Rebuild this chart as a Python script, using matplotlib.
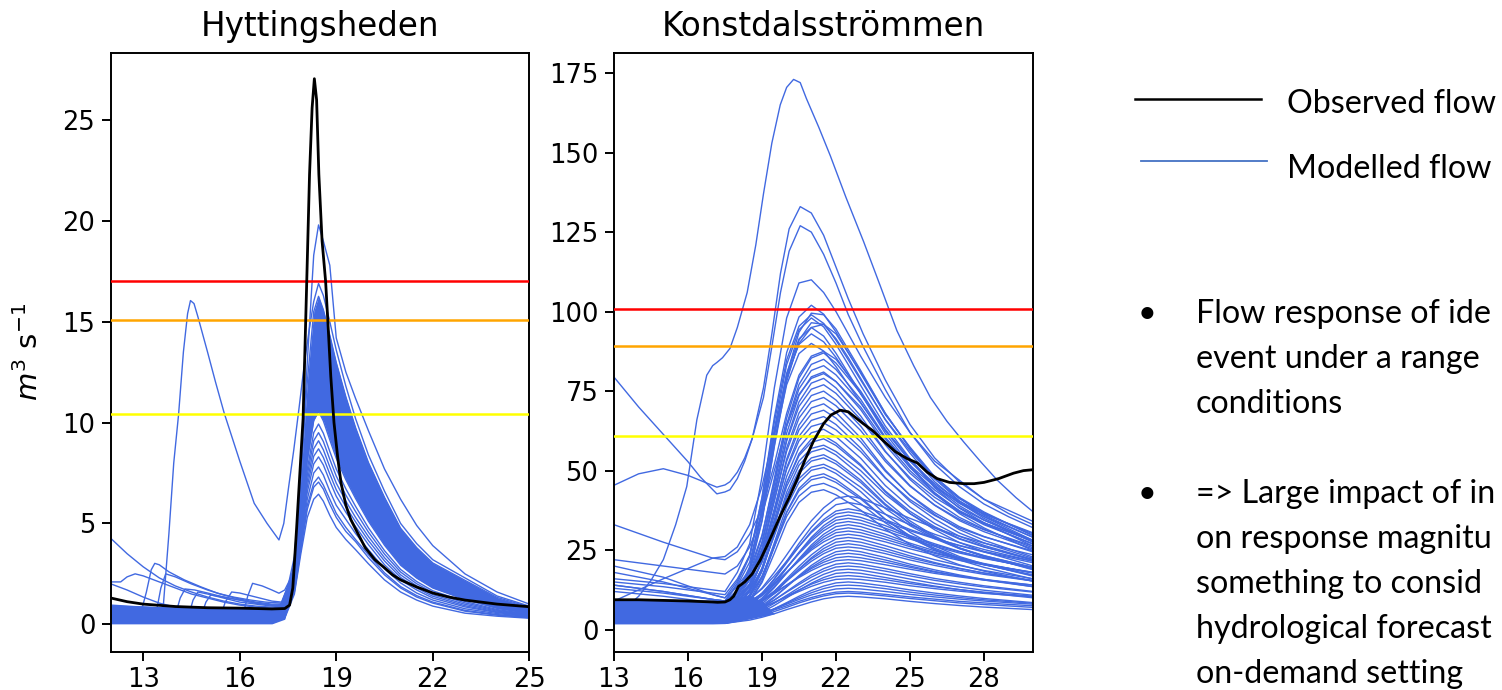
import matplotlib
matplotlib.use("Agg")
import matplotlib.pyplot as plt
from matplotlib.lines import Line2D

W, H = 1502, 690
BLUE = '#4169E1'

# ---------------- Hyttingsheden ----------------
hy_grid = [12, 13, 14, 15, 16, 17, 17.4, 17.7, 17.9, 18.1, 18.3, 18.45, 18.6, 18.8,
           19.0, 19.3, 19.6, 20.0, 20.5, 21, 21.5, 22, 23, 24, 25]

hy_members = [
    [0.1, 0.08, 0.06, 0.06, 0.05, 0.05, 0.3, 1.5, 3.5, 5.3, 6.2, 6.45, 6.1, 5.4, 4.8, 4.2, 3.7, 3.0, 2.2, 1.6, 1.2, 0.9, 0.55, 0.4, 0.3],
    [0.35, 0.3, 0.28, 0.25, 0.25, 0.22, 0.35, 1.6, 3.7, 5.7, 6.8, 7.05, 6.7, 5.95, 5.3, 4.6, 4.1, 3.3, 2.45, 1.8, 1.35, 1.05, 0.65, 0.45, 0.33],
    [0.6, 0.5, 0.45, 0.42, 0.4, 0.38, 0.45, 1.66, 3.8, 5.9, 7.0, 7.3, 6.9, 6.2, 5.5, 4.8, 4.2, 3.45, 2.55, 1.87, 1.42, 1.1, 0.69, 0.48, 0.35],
    [0.2, 0.18, 0.15, 0.15, 0.14, 0.14, 0.42, 1.75, 4.0, 6.2, 7.5, 7.8, 7.4, 6.6, 5.9, 5.2, 4.5, 3.7, 2.75, 2.05, 1.55, 1.2, 0.77, 0.53, 0.38],
    [0.8, 0.7, 0.62, 0.58, 0.55, 0.5, 0.6, 1.85, 4.2, 6.55, 7.95, 8.3, 7.9, 7.1, 6.35, 5.55, 4.85, 3.95, 2.95, 2.2, 1.7, 1.3, 0.86, 0.58, 0.4],
    [0.45, 0.4, 0.36, 0.34, 0.32, 0.3, 0.49, 1.93, 4.35, 6.83, 8.33, 8.7, 8.27, 7.45, 6.67, 5.82, 5.08, 4.15, 3.14, 2.32, 1.8, 1.39, 0.92, 0.61, 0.43],
    [0.95, 0.85, 0.75, 0.7, 0.66, 0.62, 0.7, 2.0, 4.5, 7.1, 8.7, 9.1, 8.65, 7.8, 7.0, 6.1, 5.3, 4.35, 3.3, 2.45, 1.9, 1.47, 0.99, 0.65, 0.45],
    [0.3, 0.26, 0.24, 0.22, 0.2, 0.2, 0.56, 2.08, 4.66, 7.39, 9.1, 9.5, 9.06, 8.18, 7.35, 6.4, 5.59, 4.57, 3.48, 2.59, 2.01, 1.57, 1.06, 0.69, 0.47],
    [0.7, 0.62, 0.56, 0.52, 0.5, 0.46, 0.6, 2.16, 4.82, 7.68, 9.5, 9.93, 9.47, 8.57, 7.7, 6.71, 5.85, 4.78, 3.65, 2.72, 2.12, 1.66, 1.13, 0.73, 0.5],
    [0.5, 0.45, 0.42, 0.4, 0.38, 0.36, 0.65, 2.28, 5.06, 8.1, 10.1, 10.56, 10.08, 9.14, 8.23, 7.16, 6.24, 5.11, 3.92, 2.93, 2.29, 1.8, 1.23, 0.79, 0.53],
    [0.9, 0.85, 0.8, 0.78, 0.75, 0.72, 1.14, 3.36, 7.22, 12.0, 15.5, 16.26, 15.59, 14.33, 12.98, 11.27, 9.75, 8.02, 6.29, 4.76, 3.8, 3.04, 2.18, 1.33, 0.86],
    [0.75, 0.7, 0.66, 0.62, 0.6, 0.58, 1.0, 3.0, 7.0, 13.0, 18.3, 19.8, 19.0, 17.8, 14.2, 12.5, 11.2, 9.6, 7.7, 6.2, 4.9, 3.9, 2.5, 1.6, 1.0],
]

# dense core of the ensemble (overlapping lines)
hy_band_lo = [0.02, 0.02, 0.02, 0.02, 0.02, 0.02, 0.25, 2.28, 5.06, 8.1, 10.1, 10.56, 10.08, 9.14,
              8.23, 7.16, 6.24, 5.11, 3.92, 2.93, 2.29, 1.8, 1.23, 0.79, 0.53]
hy_band_hi = [0.95, 0.9, 0.85, 0.85, 0.82, 0.8, 1.14, 3.36, 7.22, 12.0, 15.5, 16.26, 15.59, 14.33,
              12.98, 11.27, 9.75, 8.02, 6.29, 4.76, 3.8, 3.04, 2.18, 1.33, 0.86]

# members that leave the band before the event
hy_extra = [
    ([12, 13, 13.5, 13.63, 13.8, 13.95, 14.1, 14.25, 14.38, 14.47, 14.58, 14.7, 15.0, 15.25, 15.52, 16.0,
      16.45, 16.85, 17.22, 17.37, 17.52, 17.68, 17.85, 18.0, 18.15, 18.3, 18.45, 18.6, 18.8, 19.0, 19.3,
      19.6, 20.0, 20.5, 21, 21.5, 22, 23, 24, 25],
     [0.45, 0.4, 0.45, 1.0, 4.5, 8.0, 10.4, 13.5, 15.4, 16.05, 15.9, 15.25, 13.5, 12.0, 10.46, 8.1,
      6.0, 5.0, 4.18, 5.0, 6.8, 8.64, 10.8, 12.8, 14.5, 16.0, 16.9, 16.3, 15.0, 13.6, 11.8,
      10.2, 8.4, 6.6, 5.0, 4.0, 3.2, 2.3, 1.4, 0.9]),
    ([12, 12.5, 13, 13.5, 14, 14.5, 15, 15.5, 16, 16.5, 17, 17.3, 17.65],
     [4.25, 3.5, 2.85, 2.3, 1.9, 1.6, 1.35, 1.15, 1.0, 0.9, 0.85, 0.9, 2.5]),
    ([12, 12.3, 12.5, 12.75, 13.0, 13.5, 14, 14.5, 15, 15.5, 16, 16.5, 17, 17.3, 17.65],
     [2.1, 2.1, 2.35, 2.5, 2.4, 2.1, 1.8, 1.5, 1.3, 1.1, 0.95, 0.85, 0.8, 0.85, 2.5]),
    ([12, 12.5, 13, 13.5, 14, 14.5, 15, 15.5, 16, 16.5, 17, 17.3, 17.65],
     [2.0, 1.7, 1.35, 1.05, 0.85, 0.7, 0.6, 0.55, 0.5, 0.5, 0.5, 0.55, 2.5]),
    ([12, 12.5, 12.95, 13.1, 13.25, 13.36, 13.5, 13.8, 14.28, 14.8, 15.31, 15.8, 16.34, 16.8, 17.3, 17.65],
     [0.6, 0.6, 0.7, 1.6, 2.7, 3.02, 2.95, 2.6, 2.2, 1.85, 1.54, 1.35, 1.2, 1.1, 1.05, 2.5]),
    ([12, 13.4, 13.55, 13.7, 14.0, 14.5, 15, 15.5, 16, 16.5, 17, 17.3, 17.65],
     [0.5, 0.55, 1.8, 2.5, 2.35, 2.0, 1.7, 1.45, 1.25, 1.1, 1.0, 1.0, 2.5]),
    ([12, 14.0, 14.15, 14.3, 14.6, 15.0, 15.5, 16, 16.5, 17, 17.3, 17.65],
     [0.4, 0.45, 1.3, 1.75, 1.7, 1.55, 1.35, 1.2, 1.05, 0.95, 0.95, 2.5]),
    ([12, 14.4, 14.55, 14.7, 15.0, 15.5, 16, 16.5, 17, 17.3, 17.65],
     [0.3, 0.35, 1.2, 1.6, 1.5, 1.3, 1.1, 1.0, 0.9, 0.9, 2.5]),
    ([12, 14.8, 14.95, 15.1, 15.5, 16, 16.5, 17, 17.3, 17.65],
     [0.35, 0.4, 1.1, 1.45, 1.35, 1.2, 1.05, 0.95, 0.95, 2.5]),
    ([12, 15.4, 15.55, 15.75, 16.0, 16.5, 17, 17.3, 17.65],
     [0.3, 0.35, 1.1, 1.6, 1.55, 1.35, 1.15, 1.1, 2.5]),
    ([12, 16.1, 16.25, 16.4, 16.7, 17.0, 17.22, 17.4, 17.65],
     [0.4, 0.45, 1.4, 2.03, 1.9, 1.7, 1.54, 1.7, 2.5]),
]

hy_obs_x = [12, 12.5, 13, 14, 15, 16, 17, 17.4, 17.55, 17.65, 17.77, 17.87, 17.97, 18.08, 18.17, 18.25,
            18.32, 18.39, 18.46, 18.56, 18.67, 18.74, 18.83, 18.93, 19.05, 19.15, 19.3, 19.45, 19.64,
            19.9, 20.2, 20.5, 20.75, 21, 21.5, 22, 22.5, 23, 24, 25]
hy_obs_y = [1.3, 1.12, 1.0, 0.88, 0.82, 0.8, 0.76, 0.78, 0.95, 1.8, 4.8, 7.5, 10.2, 16.8, 22.3, 25.6,
            27.05, 26.0, 22.3, 19.0, 17.0, 15.0, 12.3, 10.0, 8.2, 7.0, 5.9, 5.2, 4.6,
            3.8, 3.2, 2.8, 2.45, 2.2, 1.85, 1.55, 1.35, 1.2, 1.0, 0.87]

hy_thresholds = [17.0, 15.07, 10.45]

# ---------------- Konstdalsströmmen ----------------
kd_grid = [13, 15, 17, 17.5, 18, 18.5, 19, 19.5, 20, 20.5, 21, 21.5, 22, 22.5, 23, 24, 25, 26, 27, 28, 30]

kd_members = [
    [16, 14.5, 12.5, 12, 18, 27, 48, 76, 98, 109, 110, 106, 100, 93, 86, 73, 62, 53, 47, 41, 34],
    [14, 12, 9.5, 9, 14.6, 23.0, 41.6, 66.7, 87.1, 98.3, 102, 99.2, 93.6, 87.1, 80.6, 67.6, 57.4, 48.1, 41.6, 37.0, 29.5],
    [7.5, 7.3, 7, 7, 11.5, 18.5, 34.0, 58.0, 80.0, 93.5, 99.5, 99.0, 94.5, 88.0, 81.5, 68.0, 57.0, 47.5, 40.5, 35.5, 28.0],
    [20, 16.5, 11, 10, 15.3, 23.4, 41.2, 65.2, 84.8, 95.4, 99, 96.3, 91.0, 84.8, 78.5, 66.1, 56.3, 47.4, 41.2, 36.7, 29.6],
    [6.5, 6.2, 6, 6, 11.5, 19.8, 38.2, 63.0, 83.3, 94.3, 98, 95.2, 89.7, 83.3, 76.8, 64.0, 53.8, 44.6, 38.2, 33.6, 26.2],
    [9, 8.5, 8, 8, 12.0, 19.0, 34.5, 57.5, 78.0, 91.0, 96.5, 96.0, 91.5, 85.5, 79.0, 66.0, 55.5, 46.5, 40.0, 35.0, 27.5],
    [5.5, 5.2, 5, 5, 10.4, 18.5, 36.5, 60.8, 80.6, 91.4, 95, 92.3, 86.9, 80.6, 74.3, 61.7, 51.8, 42.8, 36.5, 32.0, 24.8],
    [15, 13.5, 11.5, 11, 15.9, 23.3, 39.7, 61.8, 79.9, 89.7, 93, 90.5, 85.6, 79.9, 74.1, 62.7, 53.6, 45.4, 39.7, 35.6, 29.0],
    [9.5, 9.2, 9, 9, 13.9, 21.2, 37.4, 59.2, 77.0, 86.8, 90, 87.6, 82.7, 77.0, 71.4, 60.0, 51.1, 43.0, 37.4, 33.3, 26.8],
    [9, 16, 22.5, 23.0, 26, 33, 45, 62, 79, 90, 95, 96, 93, 87, 81, 68, 57, 48, 41.5, 36, 29],
    [33, 27.5, 22.5, 22.0, 24.5, 30, 38, 52, 68, 80, 86, 87.5, 85, 80, 75, 63, 53, 45, 39, 34.5, 27.5],
    [22, 20, 18, 17.5, 20, 26, 36, 50, 64, 74, 79, 80.5, 78, 74, 70, 59, 50, 43, 37, 33, 27],
    [8.5, 8.2, 8, 8, 12.0, 17.5, 29.3, 47.5, 66.5, 79.1, 85.4, 87, 83.8, 79.1, 74.4, 62.5, 53.0, 45.9, 40.4, 36.4, 30.1],
    [6.8, 6.4, 6, 6, 10.0, 15.5, 27.3, 45.5, 64.5, 77.1, 83.4, 85, 81.8, 77.1, 72.4, 60.5, 51.0, 43.9, 38.4, 34.4, 28.1],
    [18, 15, 11, 10, 13.7, 18.8, 29.7, 46.5, 64.0, 75.7, 81.5, 83, 80.1, 75.7, 71.3, 60.4, 51.6, 45.0, 39.9, 36.3, 30.4],
    [7.5, 7.2, 7, 7, 10.7, 15.9, 27.0, 44.0, 61.8, 73.6, 79.5, 81, 78.0, 73.6, 69.2, 58.1, 49.2, 42.5, 37.3, 33.6, 27.7],
    [5.6, 5.3, 5, 5, 8.7, 13.9, 25.0, 42.0, 59.8, 71.6, 77.5, 79, 76.0, 71.6, 67.2, 56.1, 47.2, 40.5, 35.3, 31.6, 25.7],
    [13, 11.5, 9.5, 9, 12.4, 17.2, 27.4, 43.0, 59.3, 70.2, 75.6, 77, 74.3, 70.2, 66.1, 55.9, 47.8, 41.6, 36.9, 33.5, 28.0],
    [6.5, 6.3, 6, 6, 9.5, 14.3, 24.6, 40.5, 57.1, 68.1, 73.6, 75, 72.2, 68.1, 64.0, 53.6, 45.3, 39.1, 34.3, 30.8, 25.3],
    [8.8, 8.4, 8, 8, 11.3, 15.8, 25.6, 40.5, 56.1, 66.5, 71.7, 73, 70.4, 66.5, 62.6, 52.9, 45.1, 39.2, 34.7, 31.4, 26.2],
    [4.6, 4.3, 4, 4, 7.4, 12.0, 22.1, 37.5, 53.6, 64.3, 69.7, 71, 68.3, 64.3, 60.3, 50.2, 42.2, 36.2, 31.5, 28.1, 22.8],
    [7.6, 7.3, 7, 7, 10.1, 14.4, 23.7, 38.0, 52.9, 62.8, 67.8, 69, 66.5, 62.8, 59.1, 49.8, 42.3, 36.8, 32.4, 29.3, 24.4],
    [5.5, 5.2, 5, 5, 8.1, 12.4, 21.7, 36.0, 50.9, 60.8, 65.8, 67, 64.5, 60.8, 57.1, 47.8, 40.3, 34.8, 30.4, 27.3, 22.4],
    [14, 12, 9.5, 9, 11.8, 15.7, 24.1, 37.0, 50.4, 59.4, 63.9, 65, 62.8, 59.4, 56.0, 47.6, 40.9, 35.9, 32.0, 29.2, 24.7],
    [6.6, 6.3, 6, 6, 8.9, 12.8, 21.4, 34.5, 48.2, 57.3, 61.9, 63, 60.7, 57.3, 53.9, 45.3, 38.5, 33.4, 29.4, 26.5, 22.0],
    [7.4, 7.2, 7, 7, 9.7, 13.4, 21.3, 33.5, 46.2, 54.7, 58.9, 60, 57.9, 54.7, 51.5, 43.6, 37.2, 32.4, 28.7, 26.1, 21.8],
    [4.5, 4.2, 4, 4, 6.9, 10.8, 19.4, 32.5, 46.2, 55.3, 59.9, 61, 58.7, 55.3, 51.9, 43.3, 36.5, 31.4, 27.4, 24.5, 20.0],
    [12, 10.5, 8.5, 8, 10.5, 14.0, 21.5, 33.0, 45.0, 53.0, 57.0, 58, 56.0, 53.0, 50.0, 42.5, 36.5, 32.0, 28.5, 26.0, 22.0],
    [4.4, 4.2, 4, 4, 6.7, 10.4, 18.3, 30.5, 43.2, 51.7, 55.9, 57, 54.9, 51.7, 48.5, 40.6, 34.2, 29.4, 25.7, 23.1, 18.8],
    [5.5, 5.2, 5, 5, 7.5, 11.0, 18.5, 30.0, 42.0, 50.0, 54.0, 55, 53.0, 50.0, 47.0, 39.5, 33.5, 29.0, 25.5, 23.0, 19.0],
    [6.4, 6.2, 6, 6, 8.4, 11.8, 19.0, 30.0, 41.5, 49.2, 53.0, 54, 52.1, 49.2, 46.3, 39.1, 33.4, 29.0, 25.7, 23.3, 19.4],
    [7.5, 7.2, 7, 7, 9.3, 12.4, 19.2, 29.5, 40.3, 47.5, 51.1, 52, 50.2, 47.5, 44.8, 38.1, 32.7, 28.6, 25.5, 23.2, 19.6],
    [3.9, 3.7, 3.5, 3.5, 5.9, 9.2, 16.3, 27.3, 38.7, 46.3, 50.1, 51, 49.1, 46.3, 43.4, 36.3, 30.6, 26.3, 23.0, 20.6, 16.8],
    [3.5, 3.2, 3, 3, 5.3, 8.5, 15.4, 26.0, 37.0, 44.4, 48.1, 49, 47.2, 44.4, 41.6, 34.7, 29.2, 25.1, 21.9, 19.6, 15.9],
    [5.4, 5.2, 5, 5, 7.2, 10.2, 16.6, 26.5, 36.8, 43.7, 47.1, 48, 46.3, 43.7, 41.1, 34.7, 29.5, 25.6, 22.6, 20.5, 17.0],
    [6.6, 6.3, 6, 6, 8.0, 10.8, 16.8, 26.0, 35.6, 42.0, 45.2, 46, 44.4, 42.0, 39.6, 33.6, 28.8, 25.2, 22.4, 20.4, 17.2],
    [4.4, 4.2, 4, 4, 6.0, 8.8, 14.8, 24.0, 33.6, 40.0, 43.2, 44, 42.4, 40.0, 37.6, 31.6, 26.8, 23.2, 20.4, 18.4, 15.2],
    [5.4, 5.2, 5, 5, 7.2, 9.4, 13.1, 18.0, 23.5, 29.1, 34.2, 38.3, 41.3, 42, 41.3, 38.3, 35.0, 32.0, 29.4, 27.2, 23.5],
    [3.4, 3.2, 3, 3, 5.2, 7.4, 11.1, 16.0, 21.5, 27.1, 32.2, 36.3, 39.3, 40, 39.3, 36.3, 33.0, 30.0, 27.4, 25.2, 21.5],
    [4.4, 4.2, 4, 4, 6.0, 8.1, 11.5, 15.9, 21.0, 26.1, 30.9, 34.6, 37.3, 38, 37.3, 34.6, 31.5, 28.8, 26.4, 24.4, 21.0],
    [6.5, 6.2, 6, 6, 7.9, 9.7, 12.8, 16.9, 21.5, 26.2, 30.5, 33.9, 36.4, 37, 36.4, 33.9, 31.1, 28.6, 26.5, 24.6, 21.5],
    [2.9, 2.7, 2.5, 2.5, 4.5, 6.5, 9.9, 14.2, 19.3, 24.3, 29.0, 32.7, 35.3, 36, 35.3, 32.7, 29.6, 27.0, 24.6, 22.6, 19.3],
    [4.5, 4.2, 4, 4, 5.9, 7.7, 10.8, 14.9, 19.5, 24.2, 28.5, 31.9, 34.4, 35, 34.4, 31.9, 29.1, 26.6, 24.5, 22.6, 19.5],
    [5.4, 5.2, 5, 5, 6.7, 8.5, 11.4, 15.2, 19.5, 23.9, 27.9, 31.1, 33.4, 34, 33.4, 31.1, 28.5, 26.2, 24.1, 22.4, 19.5],
    [2.8, 2.6, 2.5, 2.5, 4.3, 6.2, 9.2, 13.2, 17.8, 22.3, 26.6, 30.0, 32.4, 33, 32.4, 30.0, 27.2, 24.8, 22.6, 20.8, 17.8],
    [3.9, 3.7, 3.5, 3.5, 5.2, 6.9, 9.8, 13.5, 17.8, 22.0, 26.0, 29.2, 31.4, 32, 31.4, 29.2, 26.6, 24.3, 22.3, 20.6, 17.8],
    [5.5, 5.2, 5, 5, 6.6, 8.1, 10.7, 14.1, 18.0, 21.9, 25.5, 28.4, 30.5, 31, 30.5, 28.4, 26.1, 24.0, 22.2, 20.6, 18.0],
    [6.4, 6.2, 6, 6, 7.4, 8.9, 11.3, 14.4, 18.0, 21.6, 25.0, 27.6, 29.5, 30, 29.5, 27.6, 25.4, 23.5, 21.8, 20.4, 18.0],
    [3.3, 3.1, 3, 3, 4.6, 6.1, 8.7, 12.1, 16.0, 19.9, 23.5, 26.4, 28.5, 29, 28.5, 26.4, 24.1, 22.0, 20.2, 18.6, 16.0],
    [2.9, 2.7, 2.5, 2.5, 4.0, 5.6, 8.1, 11.4, 15.3, 19.1, 22.6, 25.5, 27.5, 28, 27.5, 25.5, 23.2, 21.1, 19.3, 17.8, 15.3],
    [4.4, 4.2, 4, 4, 5.4, 6.8, 9.1, 12.1, 15.5, 19.0, 22.2, 24.7, 26.5, 27, 26.5, 24.7, 22.6, 20.8, 19.2, 17.8, 15.5],
    [4.9, 4.7, 4.5, 4.5, 5.8, 7.1, 9.2, 12.0, 15.3, 18.5, 21.5, 23.9, 25.6, 26, 25.6, 23.9, 21.9, 20.2, 18.7, 17.4, 15.3],
    [2.3, 2.1, 2, 2, 3.4, 4.8, 7.1, 10.1, 13.5, 17.0, 20.2, 22.7, 24.5, 25, 24.5, 22.7, 20.6, 18.8, 17.2, 15.8, 13.5],
    [3.4, 3.2, 3, 3, 4.3, 5.5, 7.6, 10.4, 13.5, 16.7, 19.6, 21.9, 23.6, 24, 23.6, 21.9, 20.0, 18.3, 16.9, 15.6, 13.5],
    [5.5, 5.2, 5, 5, 6.1, 7.2, 9.0, 11.3, 14.0, 16.7, 19.2, 21.2, 22.6, 23, 22.6, 21.2, 19.6, 18.1, 16.9, 15.8, 14.0],
    [6.4, 6.2, 6, 6, 7.0, 7.9, 9.5, 11.6, 14.0, 16.4, 18.6, 20.4, 21.7, 22, 21.7, 20.4, 19.0, 17.7, 16.6, 15.6, 14.0],
    [3.4, 3.2, 3, 3, 4.1, 5.2, 7.0, 9.3, 12.0, 14.7, 17.2, 19.2, 20.6, 21, 20.6, 19.2, 17.6, 16.1, 14.9, 13.8, 12.0],
    [3.9, 3.7, 3.5, 3.5, 4.5, 5.5, 7.1, 9.3, 11.8, 14.2, 16.5, 18.4, 19.7, 20, 19.7, 18.4, 16.9, 15.5, 14.4, 13.4, 11.8],
    [2.8, 2.6, 2.5, 2.5, 3.5, 4.5, 6.1, 8.3, 10.8, 13.2, 15.5, 17.4, 18.7, 19, 18.7, 17.4, 15.9, 14.5, 13.4, 12.4, 10.8],
    [2.4, 2.2, 2, 2, 3.0, 3.9, 5.5, 7.6, 10.0, 12.4, 14.6, 16.4, 17.7, 18, 17.7, 16.4, 15.0, 13.7, 12.6, 11.6, 10.0],
    [4.3, 4.1, 4, 4, 4.8, 5.6, 6.9, 8.6, 10.5, 12.5, 14.3, 15.7, 16.7, 17, 16.7, 15.7, 14.5, 13.5, 12.6, 11.8, 10.5],
    [4.9, 4.7, 4.5, 4.5, 5.2, 5.9, 7.0, 8.5, 10.3, 12.0, 13.6, 14.9, 15.8, 16, 15.8, 14.9, 13.8, 12.9, 12.1, 11.4, 10.3],
    [2.2, 2.1, 2, 2, 2.8, 3.6, 4.9, 6.6, 8.5, 10.5, 12.3, 13.7, 14.7, 15, 14.7, 13.7, 12.5, 11.5, 10.6, 9.8, 8.5],
    [2.9, 2.7, 2.5, 2.5, 3.2, 3.9, 5.0, 6.5, 8.3, 10.0, 11.6, 12.9, 13.8, 14, 13.8, 12.9, 11.8, 10.9, 10.1, 9.4, 8.3],
    [3.2, 3.1, 3, 3, 3.6, 4.2, 5.2, 6.5, 8.0, 9.5, 10.9, 12.0, 12.8, 13, 12.8, 12.0, 11.1, 10.3, 9.6, 9.0, 8.0],
    [3.4, 3.2, 3, 3, 3.5, 4.1, 5.0, 6.2, 7.5, 8.9, 10.1, 11.1, 11.8, 12, 11.8, 11.1, 10.3, 9.6, 8.9, 8.4, 7.5],
    [2.7, 2.6, 2.5, 2.5, 3.0, 3.6, 4.5, 5.7, 7.0, 8.4, 9.6, 10.6, 11.3, 11.5, 11.3, 10.6, 9.8, 9.1, 8.4, 7.9, 7.0],
    [2.2, 2.1, 2, 2, 2.5, 3.0, 3.9, 5.0, 6.3, 7.5, 8.7, 9.7, 10.3, 10.5, 10.3, 9.7, 8.9, 8.2, 7.6, 7.1, 6.3],
]

kd_extra = [
    ([13, 13.5, 14.0, 14.5, 15.0, 15.5, 15.95, 16.36, 16.76, 17.0, 17.17, 17.4, 17.7, 18.0, 18.4, 18.75,
      19.06, 19.4, 19.74, 20.0, 20.28, 20.55, 20.8, 21.3, 21.77, 22.4, 23.12, 23.8, 24.47, 25.15, 25.83,
      26.5, 27.18, 27.9, 28.54, 29.3, 30],
     [5.0, 7.0, 10.5, 15.5, 22.0, 33.0, 45.0, 66.0, 80.0, 83.0, 84.0, 85.5, 88.4, 95.0, 106.0, 121.0,
      137.0, 153.0, 165.0, 170.5, 173.0, 172.0, 167.0, 158.0, 149.0, 136.0, 122.0, 108.0, 94.0, 83.0, 73.0,
      65.5, 59.0, 52.5, 47.0, 41.5, 37.0]),
    ([13, 14, 15, 16, 16.5, 17.17, 17.5, 17.7, 18.0, 18.3, 18.6, 19.06, 19.4, 19.75, 20.1, 20.55, 21.0,
      21.5, 22.0, 22.5, 23.1, 24, 25, 26, 27, 28, 29, 30],
     [79.4, 70.0, 61.4, 52.8, 48.0, 42.7, 43.3, 44.0, 47.5, 53.0, 60.0, 76.0, 93.0, 112.0, 126.0, 133.0, 131.0,
      124.0, 114.0, 104.0, 93.0, 78.5, 64.5, 54.0, 46.5, 41.0, 36.5, 33.0]),
    ([13, 14, 15, 16, 17.17, 17.5, 17.7, 18.0, 18.3, 18.6, 19.06, 19.4, 19.75, 20.1, 20.55, 21.0, 21.5,
      22.0, 22.5, 23.1, 24, 25, 26, 27, 28, 29, 30],
     [45.4, 49.0, 50.6, 48.5, 44.8, 45.5, 46.5, 49.5, 54.0, 60.0, 73.0, 89.0, 106.0, 119.0, 127.0, 125.0, 118.0,
      109.0, 99.0, 89.0, 75.5, 62.0, 52.0, 45.0, 39.5, 35.5, 32.0]),
]

kd_base_x = [13, 15, 17, 17.5, 18, 18.5, 19, 19.5]
kd_base_lo = [1.8, 1.8, 1.8, 1.9, 2.6, 3.4, 4.2, 5.0]
kd_base_hi = [9.5, 9.2, 8.8, 8.8, 10.0, 11.0, 9.0, 5.0]

kd_obs_x = [13, 14, 15, 16, 17, 17.2, 17.5, 17.7, 17.85, 18.05, 18.3, 18.6, 18.93, 19.3, 19.74, 20.1,
            20.4, 20.75, 21.09, 21.5, 21.8, 22.17, 22.5, 23.1, 23.5, 23.93, 24.4, 24.88, 25.3, 25.7,
            26.1, 26.6, 27.18, 27.6, 28, 28.6, 29.2, 29.6, 30]
kd_obs_y = [9.4, 9.4, 9.2, 9.0, 8.7, 8.6, 8.7, 9.4, 10.5, 13.6, 15.0, 17.5, 21.9, 28.0, 35.7, 41.5,
            46.8, 53.5, 59.3, 64.8, 67.5, 69.0, 68.5, 64.8, 62.5, 59.3, 56.0, 53.8, 52.4, 49.5,
            47.5, 46.3, 45.9, 45.9, 46.3, 47.5, 49.2, 50.0, 50.3]

kd_thresholds = [100.9, 89.1, 61.0]

threshold_colors = ['red', 'orange', 'yellow']

# slide text (only the part that is visible on the slide)
legend_labels = ['Observed flow', 'Modelled flow']
bullet_lines = [
    (322.6, 'Flow response of ide'),
    (367.6, 'event under a range'),
    (412.6, 'conditions'),
    (503.0, '=> Large impact of in'),
    (548.0, 'on response magnitu'),
    (593.0, 'something to consid'),
    (638.0, 'hydrological forecast'),
    (683.0, 'on-demand setting'),
]

# ---------------- figure ----------------
fig = plt.figure(figsize=(W / 100, H / 100), dpi=100)
ax1 = fig.add_axes([111 / W, 1 - 651.7 / H, 418.3 / W, 599 / H])
ax2 = fig.add_axes([614 / W, 1 - 651.7 / H, 419.3 / W, 599 / H])


def draw_panel(ax, grid, members, extra, obs_x, obs_y, thresholds):
    for m in members:
        ax.plot(grid, m, color=BLUE, lw=1.0, zorder=2)
    for xs, ys in extra:
        ax.plot(xs, ys, color=BLUE, lw=1.0, zorder=2)
    for t, c in zip(thresholds, threshold_colors):
        ax.axhline(t, color=c, lw=1.8, zorder=3)
    ax.plot(obs_x, obs_y, color='black', lw=2.0, zorder=4)


ax1.fill_between(hy_grid, hy_band_lo, hy_band_hi, color=BLUE, lw=0, zorder=2)
draw_panel(ax1, hy_grid, hy_members, hy_extra, hy_obs_x, hy_obs_y, hy_thresholds)
ax2.fill_between(kd_base_x, kd_base_lo, kd_base_hi, color=BLUE, lw=0, zorder=2)
draw_panel(ax2, kd_grid, kd_members, kd_extra, kd_obs_x, kd_obs_y, kd_thresholds)

ax1.set_xlim(12, 25)
ax1.set_ylim(-1.36, 28.34)
ax1.set_xticks([13, 16, 19, 22, 25])
ax1.set_yticks([0, 5, 10, 15, 20, 25])
ax2.set_xlim(13, 30)
ax2.set_ylim(-6.93, 181.4)
ax2.set_xticks([13, 16, 19, 22, 25, 28])
ax2.set_yticks([0, 25, 50, 75, 100, 125, 150, 175])

for ax in (ax1, ax2):
    ax.tick_params(labelsize=18.5, length=6.3, width=1.4, pad=5)
    for s in ax.spines.values():
        s.set_linewidth(1.4)

ax1.set_title('Hyttingsheden', fontsize=23.5, pad=12)
ax2.set_title('Konstdalsströmmen', fontsize=23.5, pad=12)
ax1.set_ylabel(r'$m^3$ s$^{-1}$', fontsize=21, labelpad=13)

# legend drawn like the slide
fig.add_artist(Line2D([1135 / W, 1261 / W], [1 - 99.3 / H] * 2, color='black', lw=1.8))
fig.add_artist(Line2D([1141 / W, 1267 / W], [1 - 160.7 / H] * 2, color='#4472C4', lw=1.3))

txt = dict(family=['Lato', 'DejaVu Sans'], fontsize=23.2, va='baseline', ha='left', color='black')
fig.text(1287 / W, 1 - 113 / H, legend_labels[0], **txt)
fig.text(1287 / W, 1 - 178 / H, legend_labels[1], **txt)

for yb, s in bullet_lines:
    fig.text(1196 / W, 1 - yb / H, s, **txt)
for yb in (322.6, 503.0):
    fig.text(1147 / W, 1 - yb / H, '•', family=['Lato', 'DejaVu Sans'], fontsize=23.2,
             va='baseline', ha='center')

fig.savefig('out.png', dpi=100)
